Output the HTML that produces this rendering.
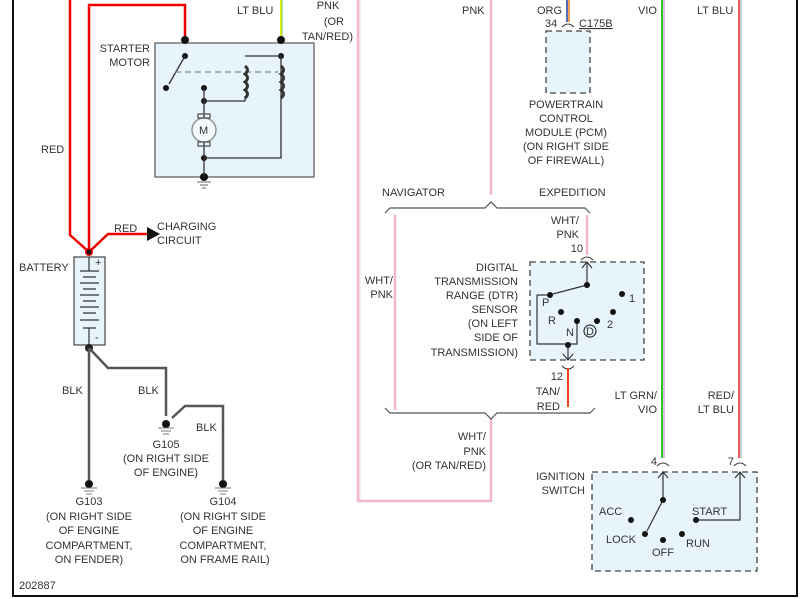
<!DOCTYPE html>
<html><head><style>body{margin:0;background:#fff}svg{display:block}text{font-family:"Liberation Sans",sans-serif;font-size:11px;fill:#333}</style></head><body>
<svg width="809" height="599" viewBox="0 0 809 599">
<defs><marker id="ar" viewBox="0 0 10 10" refX="9" refY="5" markerWidth="6" markerHeight="6" orient="auto"><path d="M0,0L10,5L0,10z" fill="#222"/></marker></defs>
<rect width="809" height="599" fill="#fff"/>
<!-- frame -->
<path d="M13,0V596H797V0" fill="none" stroke="#111" stroke-width="2"/>
<!-- starter box -->
<rect x="155" y="43" width="159" height="134" fill="#e8f4fb" stroke="#555" stroke-width="1.2"/>
<!-- red wires -->
<path d="M70,0V235L89,252M89,252V5H185V40M89,252L108,234H148" fill="none" stroke="#e00" stroke-width="2.5"/>
<path d="M147,227L160,234L147,241z" fill="#111"/>
<!-- lt blu -->
<line x1="281" y1="0" x2="281" y2="38" stroke="#ee0" stroke-width="2"/>
<line x1="282" y1="0" x2="282" y2="38" stroke="#6c6" stroke-width="1"/>
<g fill="#111"><circle cx="185" cy="40" r="4"/><circle cx="281" cy="40" r="4"/><circle cx="185" cy="56" r="3"/><circle cx="166" cy="88" r="3"/><circle cx="281" cy="56" r="3"/><circle cx="204" cy="88" r="3"/><circle cx="204" cy="101" r="3"/><circle cx="204" cy="158" r="3"/><circle cx="204" cy="177" r="4"/></g>
<g fill="none" stroke="#333" stroke-width="1.3">
<path d="M185,56L169,84"/>
<path d="M245,56H281V158H204M204,101H245V96M204,88V101M204,101V118M204,142V158V177"/>
<path d="M175,72H278" stroke-dasharray="6,4" stroke="#888"/>
<path d="M245,66q5,4 0,8q5,4 0,8q5,4 0,8q5,4 0,8M281,66q5,4 0,8q5,4 0,8q5,4 0,8q5,4 0,8" stroke-width="3"/>
<circle cx="204" cy="130" r="12" fill="#f4f9fc" stroke="#888"/>
<rect x="198" y="114" width="12" height="4" stroke="#555"/><rect x="198" y="142" width="12" height="4" stroke="#555"/>
<path d="M197,182H211M200,185H208M202,188H206" stroke="#888"/>
</g>
<text x="199" y="134" font-size="10">M</text>
<!-- battery -->
<rect x="74" y="257" width="31" height="88" fill="#e8f4fb" stroke="#444" stroke-width="1.2"/>
<g stroke="#333" stroke-width="1.2"><path d="M89,257V271M89,328V345M80,271H99M83,277H96M80,283H99M83,289H96M80,295H99M83,301H96M80,307H99M83,313H96M80,320H99M83,328H96"/></g>
<text x="95" y="266" font-size="9">+</text><text x="95" y="341" font-size="9">-</text>
<circle cx="89" cy="252" r="4" fill="#e00"/><circle cx="89" cy="252" r="2.5" fill="#111"/>
<circle cx="89" cy="348" r="4" fill="#222"/>
<!-- blk wires -->
<path d="M89,348V480M89,348L108,368H166V416M172,418L185,406H223V480" fill="none" stroke="#555" stroke-width="2.5"/>
<g fill="#111"><circle cx="89" cy="484" r="4"/><circle cx="166" cy="424" r="4"/><circle cx="223" cy="484" r="4"/></g>
<g stroke="#777" stroke-width="1"><path d="M81,488H97M84,491H94M86,494H92M158,428H174M161,431H171M163,434H169M215,488H231M218,491H228M220,494H226"/></g>
<!-- pink wires -->
<g fill="none" stroke="#f2b8c8" stroke-width="2.5">
<path d="M358,0V501H491V418M491,0V195M395,215V410M587,215V255"/></g>
<line x1="360" y1="0" x2="360" y2="501" stroke="#f7d7e0" stroke-width="1"/>
<!-- brackets -->
<path d="M385,213L390,208H485L491,202L497,208H585L590,213M385,408L390,413H485L491,419L497,413H590L595,408" fill="none" stroke="#555" stroke-width="1.2"/>
<!-- PCM -->
<line x1="567" y1="0" x2="567" y2="22" stroke="#1a3fa0" stroke-width="1.5"/><line x1="569" y1="0" x2="569" y2="22" stroke="#f08020" stroke-width="1.5"/>
<path d="M562,27q6,-6 12,0" fill="none" stroke="#333"/>
<rect x="546" y="31" width="44" height="62" fill="#e8f4fb" stroke="#444" stroke-width="1.3" stroke-dasharray="6,4"/>
<!-- DTR -->
<rect x="530" y="262" width="114" height="98" fill="#e8f4fb" stroke="#444" stroke-width="1.3" stroke-dasharray="6,4"/>
<path d="M581,260q6,-6 12,0M562,366q6,6 12,0" fill="none" stroke="#333"/>
<line x1="568" y1="368" x2="568" y2="407" stroke="#e84020" stroke-width="2"/>
<g fill="none" stroke="#333" stroke-width="1.2">
<path d="M587,262V285M582,268L587,262L592,268M587,285L553,294M537,295H551M537,295V344H577V322M568,344V360M563,354L568,360L573,354"/>
<circle cx="590" cy="331" r="6"/></g>
<g fill="#111"><circle cx="587" cy="285" r="3"/><circle cx="550" cy="295" r="3"/><circle cx="561" cy="312" r="3"/><circle cx="577" cy="321" r="3"/><circle cx="597" cy="321" r="3"/><circle cx="613" cy="312" r="3"/><circle cx="622" cy="294" r="3"/><circle cx="568" cy="345" r="3"/></g>
<text x="542" y="306">P</text><text x="548" y="324">R</text><text x="566" y="336">N</text><text x="586" y="335" font-size="10">D</text><text x="607" y="328">2</text><text x="629" y="302">1</text>
<!-- VIO and RED/LT BLU -->
<line x1="662" y1="0" x2="662" y2="458" stroke="#2c2" stroke-width="2"/><line x1="664" y1="0" x2="664" y2="458" stroke="#e6a0e6" stroke-width="1.5"/>
<line x1="739" y1="0" x2="739" y2="458" stroke="#e22" stroke-width="1.5"/><line x1="741" y1="0" x2="741" y2="458" stroke="#8ab" stroke-width="1"/>
<path d="M657,466q6,-6 12,0M734,466q6,-6 12,0" fill="none" stroke="#333"/>
<rect x="592" y="472" width="165" height="99" fill="#e8f4fb" stroke="#444" stroke-width="1.3" stroke-dasharray="6,4"/>
<g fill="none" stroke="#333" stroke-width="1.2"><path d="M663,472V500M658,478L663,472L668,478M663,500L647,531M696,520H740V472M735,478L740,472L745,478"/></g>
<g fill="#111"><circle cx="663" cy="500" r="3"/><circle cx="645" cy="534" r="3"/><circle cx="631" cy="520" r="3"/><circle cx="663" cy="540" r="3"/><circle cx="682" cy="534" r="3"/><circle cx="696" cy="520" r="3"/></g>
<text x="599" y="515">ACC</text><text x="606" y="543">LOCK</text><text x="652" y="556">OFF</text><text x="686" y="547">RUN</text><text x="692" y="515">START</text>
<!-- labels -->
<text x="237" y="14">LT BLU</text>
<text x="328" y="9" text-anchor="middle">PNK</text><text x="344" y="25" text-anchor="end">(OR</text><text x="353" y="40" text-anchor="end">TAN/RED)</text>
<text x="150" y="52" text-anchor="end">STARTER</text><text x="150" y="66" text-anchor="end">MOTOR</text>
<text x="41" y="153">RED</text>
<text x="114" y="232">RED</text><text x="157" y="230">CHARGING</text><text x="157" y="244">CIRCUIT</text>
<text x="19" y="271">BATTERY</text>
<text x="62" y="394">BLK</text><text x="138" y="394">BLK</text><text x="196" y="431">BLK</text>
<g text-anchor="middle"><text x="166" y="448">G105</text><text x="166" y="462">(ON RIGHT SIDE</text><text x="166" y="476">OF ENGINE)</text>
<text x="89" y="505">G103</text><text x="89" y="520">(ON RIGHT SIDE</text><text x="89" y="534">OF ENGINE</text><text x="89" y="549">COMPARTMENT,</text><text x="89" y="563">ON FENDER)</text>
<text x="223" y="505">G104</text><text x="223" y="520">(ON RIGHT SIDE</text><text x="223" y="534">OF ENGINE</text><text x="223" y="549">COMPARTMENT,</text><text x="225" y="563">ON FRAME RAIL)</text>
<text x="566" y="108">POWERTRAIN</text><text x="566" y="122">CONTROL</text><text x="566" y="136">MODULE (PCM)</text><text x="566" y="150">(ON RIGHT SIDE</text><text x="566" y="164">OF FIREWALL)</text></g>
<text x="19" y="589">202887</text>
<text x="462" y="14">PNK</text><text x="537" y="14">ORG</text><text x="545" y="27">34</text><text x="579" y="27" text-decoration="underline">C175B</text>
<text x="638" y="14">VIO</text><text x="697" y="14">LT BLU</text>
<text x="382" y="196">NAVIGATOR</text><text x="539" y="196">EXPEDITION</text>
<g text-anchor="end"><text x="579" y="224">WHT/</text><text x="579" y="238">PNK</text><text x="583" y="252">10</text>
<text x="518" y="271">DIGITAL</text><text x="518" y="285">TRANSMISSION</text><text x="518" y="299">RANGE (DTR)</text><text x="518" y="313">SENSOR</text><text x="518" y="327">(ON LEFT</text><text x="518" y="341">SIDE OF</text><text x="518" y="356">TRANSMISSION)</text>
<text x="393" y="284">WHT/</text><text x="393" y="298">PNK</text>
<text x="563" y="380">12</text><text x="560" y="395">TAN/</text><text x="560" y="410">RED</text>
<text x="657" y="399">LT GRN/</text><text x="657" y="413">VIO</text><text x="734" y="399">RED/</text><text x="734" y="413">LT BLU</text>
<text x="486" y="440">WHT/</text><text x="486" y="455">PNK</text><text x="486" y="469">(OR TAN/RED)</text>
<text x="585" y="480">IGNITION</text><text x="585" y="494">SWITCH</text>
<text x="657" y="465">4</text><text x="734" y="465">7</text></g>
</svg>
</body></html>
